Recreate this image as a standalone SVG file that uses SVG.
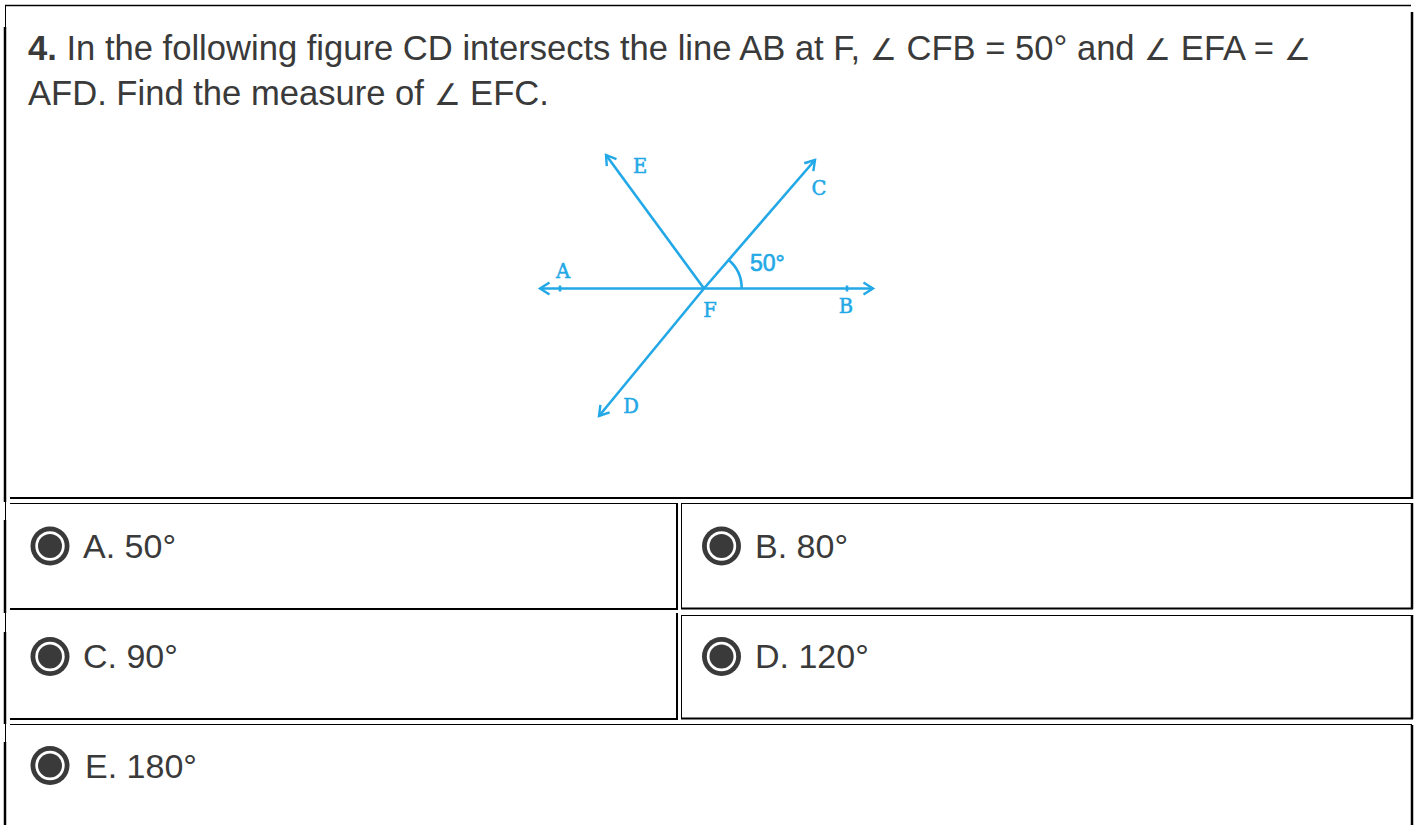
<svg xmlns="http://www.w3.org/2000/svg" width="1415" height="825" viewBox="0 0 1415 825">
<style>
.q{font-family:"Liberation Sans",Arial,sans-serif;font-size:34.6px;fill:#3a3a3a}
.opt{font-family:"Liberation Sans",Arial,sans-serif;font-size:34px;fill:#3a3a3a}
.ang{font-family:"DejaVu Sans ExtraLight","DejaVu Sans",sans-serif;font-weight:200;font-size:30px}
.b{stroke:#000;fill:none}
.ray{stroke:#22a8e6;stroke-width:2.6;fill:none}
.lbl{font-family:"DejaVu Serif","Liberation Serif",serif;font-size:19.5px;fill:#22a8e6;stroke:#22a8e6;stroke-width:0.5;text-anchor:middle}
.deg{font-family:"Liberation Sans",Arial,sans-serif;font-size:23px;fill:#22a8e6;stroke:#22a8e6;stroke-width:0.6}
</style>
<defs>
<marker id="ah" markerUnits="userSpaceOnUse" markerWidth="16" markerHeight="16" refX="0" refY="0" viewBox="-12 -8 16 16" orient="auto" overflow="visible">
<path d="M-9.5,-6 L0,0 L-9.5,6" stroke="#22a8e6" stroke-width="2.4" fill="none"/>
</marker>
</defs>
<rect width="1415" height="825" fill="#fff"/>
<g id="frame">
<line class="b" x1="5" y1="5.5" x2="1411" y2="5.5" stroke-width="1.5"/>
<line class="b" x1="5.5" y1="5" x2="5.5" y2="825" stroke-width="1"/>
<line class="b" x1="5" y1="27" x2="5" y2="502" stroke-width="2.5"/>
<line class="b" x1="5" y1="520" x2="5" y2="613" stroke-width="2.5"/>
<line class="b" x1="5" y1="632" x2="5" y2="724" stroke-width="2.5"/>
<line class="b" x1="5" y1="742" x2="5" y2="825" stroke-width="2.5"/>
<line class="b" x1="1412" y1="12" x2="1412" y2="499" stroke-width="2.5"/>
<line class="b" x1="10" y1="498" x2="1413" y2="498" stroke-width="2"/>
</g>
<g id="question">
<text class="q" x="28" y="60"><tspan font-weight="bold">4.</tspan> In the following figure CD intersects the line AB at F, <tspan class="ang">∠</tspan> CFB = 50° and <tspan class="ang">∠</tspan> EFA = <tspan class="ang">∠</tspan></text>
<text class="q" x="28" y="105">AFD. Find the measure of <tspan class="ang">∠</tspan> EFC.</text>
</g>
<g id="figure">
<g id="connectors">
<line class="ray" x1="704" y1="288.5" x2="540" y2="288.5" marker-end="url(#ah)"/>
<line class="ray" x1="704" y1="288.5" x2="873" y2="288.5" marker-end="url(#ah)"/>
<line class="ray" x1="704" y1="288.5" x2="606" y2="155" marker-end="url(#ah)"/>
<line class="ray" x1="704" y1="288.5" x2="815" y2="160" marker-end="url(#ah)"/>
<line class="ray" x1="704" y1="288.5" x2="599" y2="416" marker-end="url(#ah)"/>
<path class="ray" d="M741.7,288.5 A37.7,37.7 0 0 0 728.2,259.6"/>
<line class="ray" x1="560" y1="285.5" x2="560" y2="291.5" stroke-width="1.5"/>
<line class="ray" x1="847" y1="285.5" x2="847" y2="291.5" stroke-width="1.5"/>
</g>
<text class="lbl" x="640" y="173">E</text>
<text class="lbl" x="819" y="195">C</text>
<text class="lbl" x="563" y="278">A</text>
<text class="lbl" x="710" y="317">F</text>
<text class="lbl" x="846" y="313">B</text>
<text class="lbl" x="631" y="413">D</text>
<text class="deg" x="750" y="271">50°</text>
</g>
<g id="optA">
<line class="b" x1="10" y1="503.5" x2="677" y2="503.5" stroke-width="1"/>
<line class="b" x1="10" y1="609" x2="678" y2="609" stroke-width="2"/>
<line class="b" x1="677" y1="503" x2="677" y2="610" stroke-width="2"/>
<circle cx="50" cy="546" r="19.5" fill="#3a3a3a"/><circle cx="50" cy="546" r="14.7" fill="#fff"/><circle cx="50" cy="546" r="12" fill="#3a3a3a"/>
<text class="opt" x="83" y="558">A. 50°</text>
</g>
<g id="optB">
<line class="b" x1="681" y1="503.5" x2="1412" y2="503.5" stroke-width="1"/>
<line class="b" x1="681.5" y1="503" x2="681.5" y2="609" stroke-width="1"/>
<line class="b" x1="681" y1="608.5" x2="1413" y2="608.5" stroke-width="2"/>
<line class="b" x1="1412" y1="503" x2="1412" y2="609" stroke-width="2.5"/>
<circle cx="721.5" cy="546" r="19.5" fill="#3a3a3a"/><circle cx="721.5" cy="546" r="14.7" fill="#fff"/><circle cx="721.5" cy="546" r="12" fill="#3a3a3a"/>
<text class="opt" x="755" y="558">B. 80°</text>
</g>
<g id="optC">
<line class="b" x1="677" y1="613" x2="677" y2="720" stroke-width="2"/>
<line class="b" x1="10" y1="719" x2="678" y2="719" stroke-width="2"/>
<circle cx="50" cy="656.5" r="19.5" fill="#3a3a3a"/><circle cx="50" cy="656.5" r="14.7" fill="#fff"/><circle cx="50" cy="656.5" r="12" fill="#3a3a3a"/>
<text class="opt" x="83" y="668">C. 90°</text>
</g>
<g id="optD">
<line class="b" x1="681" y1="615.5" x2="1412" y2="615.5" stroke-width="1"/>
<line class="b" x1="681.5" y1="615" x2="681.5" y2="719" stroke-width="1"/>
<line class="b" x1="681" y1="718.5" x2="1413" y2="718.5" stroke-width="2"/>
<line class="b" x1="1412" y1="615" x2="1412" y2="719" stroke-width="2.5"/>
<circle cx="721.5" cy="656.5" r="19.5" fill="#3a3a3a"/><circle cx="721.5" cy="656.5" r="14.7" fill="#fff"/><circle cx="721.5" cy="656.5" r="12" fill="#3a3a3a"/>
<text class="opt" x="755" y="668">D. 120°</text>
</g>
<g id="optE">
<line class="b" x1="10" y1="724.5" x2="1412" y2="724.5" stroke-width="1"/>
<line class="b" x1="1412" y1="725" x2="1412" y2="825" stroke-width="2.5"/>
<circle cx="50" cy="765.5" r="19.5" fill="#3a3a3a"/><circle cx="50" cy="765.5" r="14.7" fill="#fff"/><circle cx="50" cy="765.5" r="12" fill="#3a3a3a"/>
<text class="opt" x="85" y="778">E. 180°</text>
</g>
</svg>
